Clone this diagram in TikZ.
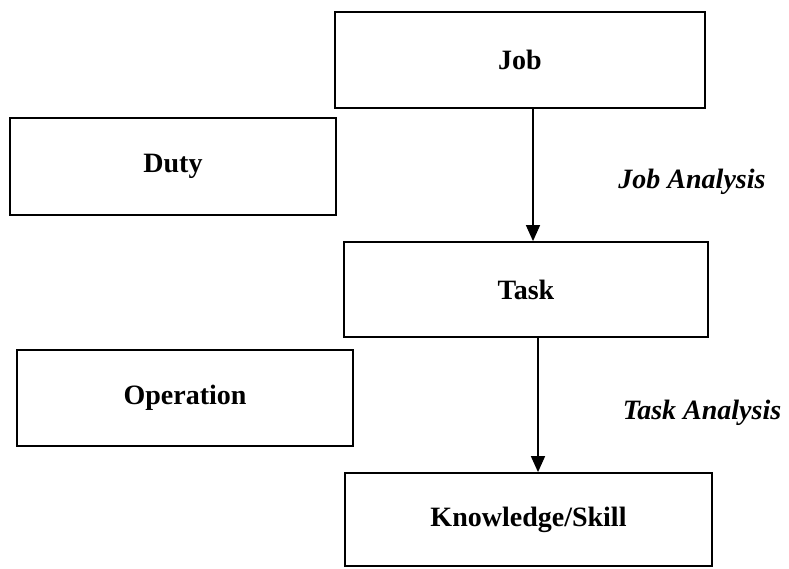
\documentclass[tikz,border=0pt]{standalone}
\usepackage{fontspec}
\setmainfont{Liberation Serif}
\usetikzlibrary{arrows.meta}
\begin{document}
\begin{tikzpicture}[x=1pt,y=-1pt,
  box/.style={draw=black, line width=1.8pt, rectangle, inner sep=0pt,
    font=\fontsize{28}{32}\selectfont\bfseries},
  flowarrow/.style={line width=1.5pt, -{Triangle[length=16pt,width=14pt]}},
  steplabel/.style={font=\fontsize{28}{32}\selectfont\bfseries\itshape, inner sep=0pt}]
  \useasboundingbox (0,0) rectangle (789,568);
  % hierarchy column
  \node[box, minimum width=370pt, minimum height=96pt] (job) at (520,60) {Job};
  \node[box, minimum width=364pt, minimum height=95pt] (task) at (526,289.5) {Task};
  \node[box, minimum width=367pt, minimum height=93pt] (ks) at (528.5,519.5) {Knowledge/Skill};
  % side column
  \node[box, minimum width=326pt, minimum height=97pt] (duty) at (173,166.5) {Duty};
  \node[box, minimum width=336pt, minimum height=96pt] (op) at (185,398) {Operation};
  % analysis steps
  \draw[flowarrow] ([xshift=13pt]job.south) -- ([xshift=7pt]task.north);
  \draw[flowarrow] ([xshift=12pt]task.south) -- ([xshift=9.5pt]ks.north);
  \node[steplabel] (ja) at (692,182) {Job Analysis};
  \node[steplabel] (ta) at (702,413) {Task Analysis};
\end{tikzpicture}
\end{document}
